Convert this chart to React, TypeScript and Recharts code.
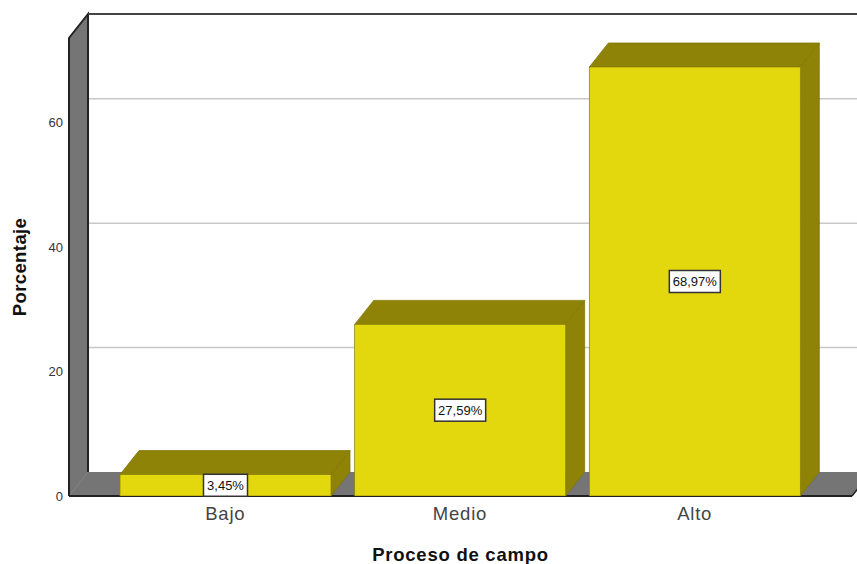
import { BarChart, Bar, XAxis, YAxis, CartesianGrid, LabelList, usePlotArea } from 'recharts';

const categories = ['Bajo', 'Medio', 'Alto'];
const percentages = [3.45, 27.59, 68.97];
const yTicks = [0, 20, 40, 60];

const rows = categories.map((name, i) => ({ name, value: percentages[i] }));

// how far the back of the 3D box sits from its front
const DEPTH_X = 19;
const DEPTH_Y = 24;

const FONT = '"Liberation Sans", Arial, sans-serif';

function Walls() {
  const area = usePlotArea();
  if (!area) return null;
  const { x, y, width, height } = area;
  const bottom = y + height;
  const right = x + width;
  return (
    <g>
      <polygon
        points={`${x},${y} ${x + DEPTH_X},${y - DEPTH_Y} ${x + DEPTH_X},${bottom - DEPTH_Y} ${x},${bottom}`}
        fill="#757575"
      />
      <polygon
        points={`${x},${bottom} ${x + DEPTH_X},${bottom - DEPTH_Y} ${right + DEPTH_X},${bottom - DEPTH_Y} ${right},${bottom}`}
        fill="#757575"
      />
      <polyline
        points={`${x},${bottom} ${x},${y} ${x + DEPTH_X},${y - DEPTH_Y} ${x + DEPTH_X},${bottom - DEPTH_Y}`}
        fill="none"
        stroke="#222"
        strokeWidth={2}
      />
      <line x1={x + DEPTH_X} y1={y - DEPTH_Y} x2={right + DEPTH_X} y2={y - DEPTH_Y} stroke="#444" strokeWidth={2} />
      <line x1={x} y1={bottom} x2={right} y2={bottom} stroke="#222" strokeWidth={2} />
      <line x1={right} y1={bottom} x2={right + DEPTH_X} y2={bottom - DEPTH_Y} stroke="#222" strokeWidth={1.5} />
    </g>
  );
}

// gridline runs across the side wall, then along the back wall
function gridLine(props: any) {
  const { x1, x2, y1, key } = props;
  const isFloor = y1 >= 490;
  return (
    <g key={key}>
      <line x1={x1} y1={y1} x2={x1 + DEPTH_X} y2={y1 - DEPTH_Y} stroke="#a8a8a8" strokeWidth={1} />
      {!isFloor && (
        <line x1={x1 + DEPTH_X} y1={y1 - DEPTH_Y} x2={x2 + DEPTH_X} y2={y1 - DEPTH_Y} stroke="#c8c8c8" strokeWidth={1.5} />
      )}
    </g>
  );
}

function Bar3D(props: any) {
  const { x, y, width, height } = props;
  const r = x + width;
  const b = y + height;
  return (
    <g>
      <polygon
        points={`${x},${y} ${x + DEPTH_X},${y - DEPTH_Y} ${r + DEPTH_X},${y - DEPTH_Y} ${r},${y}`}
        fill="#8e8307"
        stroke="#7f7608"
        strokeWidth={0.75}
      />
      <polygon
        points={`${r},${y} ${r + DEPTH_X},${y - DEPTH_Y} ${r + DEPTH_X},${b - DEPTH_Y} ${r},${b}`}
        fill="#8e8307"
        stroke="#7f7608"
        strokeWidth={0.75}
      />
      <rect x={x} y={y} width={width} height={height} fill="#e3d80e" stroke="#8e8307" strokeWidth={0.75} />
    </g>
  );
}

function ValueTag(props: any) {
  const { x, y, width, height, value } = props;
  const cx = x + width / 2;
  const cy = y + height / 2;
  const text = `${value.toFixed(2).replace('.', ',')}%`;
  const boxW = text.length * 7 + 9;
  return (
    <g>
      <rect x={cx - boxW / 2} y={cy - 11} width={boxW} height={22} fill="#fff" stroke="#333" strokeWidth={1.5} />
      <text x={cx} y={cy + 4.5} textAnchor="middle" fontFamily={FONT} fontSize={13} fill="#111">
        {text}
      </text>
    </g>
  );
}

export default function App() {
  return (
    <div style={{ position: 'fixed', left: 0, top: 0, width: 857, height: 564, overflow: 'hidden', background: '#fff' }}>
      <BarChart width={857} height={564} data={rows} margin={{ top: 38, right: 5, bottom: 0, left: 0 }} barSize={211}>
        <Walls />
        <CartesianGrid vertical={false} horizontal={gridLine} />
        <XAxis
          dataKey="name"
          height={68}
          padding={{ left: 39, right: 40 }}
          axisLine={false}
          tickLine={false}
          tickMargin={5}
          tick={{ fontFamily: FONT, fontSize: 18.5, letterSpacing: 0.8, fill: '#444' }}
          label={{
            value: 'Proceso de campo',
            position: 'insideBottom',
            offset: 3,
            style: { fontFamily: FONT, fontSize: 18.5, letterSpacing: 0.75, fontWeight: 700, fill: '#111' },
          }}
        />
        <YAxis
          width={69}
          domain={[0, 73.63]}
          ticks={yTicks}
          allowDataOverflow
          axisLine={false}
          tickLine={false}
          tickMargin={0}
          tick={{ fontFamily: FONT, fontSize: 13, fill: '#333' }}
          label={{
            value: 'Porcentaje',
            angle: -90,
            position: 'insideLeft',
            offset: 19,
            style: { fontFamily: FONT, fontSize: 18.5, letterSpacing: 0.4, fontWeight: 700, fill: '#111', textAnchor: 'middle' },
          }}
        />
        <Bar dataKey="value" shape={Bar3D} isAnimationActive={false}>
          <LabelList dataKey="value" content={ValueTag} />
        </Bar>
      </BarChart>
    </div>
  );
}
